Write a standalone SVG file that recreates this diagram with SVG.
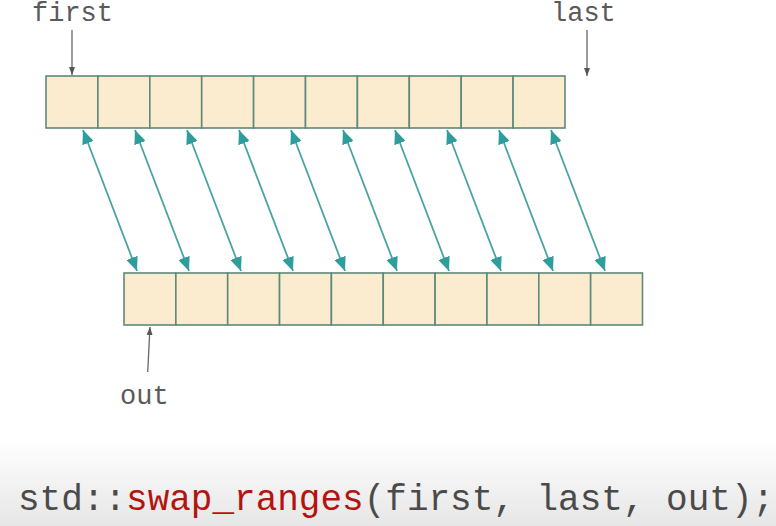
<svg xmlns="http://www.w3.org/2000/svg" width="776" height="526" viewBox="0 0 776 526">
<defs>
<linearGradient id="band" x1="0" y1="0" x2="0" y2="1">
<stop offset="0" stop-color="#ffffff"/>
<stop offset="1" stop-color="#e6e6e6"/>
</linearGradient>
<marker id="tealHead" markerUnits="userSpaceOnUse" markerWidth="14" markerHeight="12" viewBox="0 0 14 12" refX="14" refY="6" orient="auto-start-reverse">
<path d="M0,0 L14,6 L0,12 Z" fill="#2f9c9d"/>
</marker>
<marker id="grayHead" markerUnits="userSpaceOnUse" markerWidth="8" markerHeight="8" viewBox="0 0 8 8" refX="8" refY="4" orient="auto">
<path d="M0,1 L8,4 L0,7 Z" fill="#555"/>
</marker>
</defs>
<style>
.cell{fill:#fbecd0;stroke:#5d8a7a;stroke-width:1.6}
.lbl{font-family:"Liberation Mono","Courier New",monospace;font-size:27px;fill:#5a5a5a}
.code{font-family:"Liberation Mono","Courier New",monospace;font-size:36px;fill:#4a4a4a}
.swap{stroke:#4aa3a4;stroke-width:1.8;fill:none}
.ptr{stroke:#666;stroke-width:1.3;fill:none}
</style>
<rect x="0" y="0" width="776" height="526" fill="#ffffff"/>
<rect x="0" y="440" width="776" height="86" fill="url(#band)"/>

<g id="range-first">
<rect class="cell" x="46" y="76" width="51.9" height="52"/>
<rect class="cell" x="97.9" y="76" width="51.9" height="52"/>
<rect class="cell" x="149.8" y="76" width="51.9" height="52"/>
<rect class="cell" x="201.7" y="76" width="51.9" height="52"/>
<rect class="cell" x="253.6" y="76" width="51.9" height="52"/>
<rect class="cell" x="305.5" y="76" width="51.9" height="52"/>
<rect class="cell" x="357.4" y="76" width="51.9" height="52"/>
<rect class="cell" x="409.3" y="76" width="51.9" height="52"/>
<rect class="cell" x="461.2" y="76" width="51.9" height="52"/>
<rect class="cell" x="513.1" y="76" width="51.9" height="52"/>
</g>

<g id="range-out">
<rect class="cell" x="124" y="273" width="51.85" height="52"/>
<rect class="cell" x="175.85" y="273" width="51.85" height="52"/>
<rect class="cell" x="227.7" y="273" width="51.85" height="52"/>
<rect class="cell" x="279.55" y="273" width="51.85" height="52"/>
<rect class="cell" x="331.4" y="273" width="51.85" height="52"/>
<rect class="cell" x="383.25" y="273" width="51.85" height="52"/>
<rect class="cell" x="435.1" y="273" width="51.85" height="52"/>
<rect class="cell" x="486.95" y="273" width="51.85" height="52"/>
<rect class="cell" x="538.8" y="273" width="51.85" height="52"/>
<rect class="cell" x="590.65" y="273" width="51.85" height="52"/>
</g>

<g id="label-first"><text class="lbl" x="32" y="21">first</text></g>
<g id="label-last"><text class="lbl" x="551" y="21">last</text></g>
<g id="label-out"><text class="lbl" x="120" y="404">out</text></g>

<g id="code"><text class="code" x="18" y="510">std::<tspan fill="#b3140f">swap_ranges</tspan>(first, last, out);</text></g>

<g id="connectors">
<line class="ptr" x1="72" y1="30" x2="72" y2="75" marker-end="url(#grayHead)"/>
<line class="ptr" x1="587" y1="30" x2="587" y2="76" marker-end="url(#grayHead)"/>
<line class="ptr" x1="147.7" y1="372" x2="150" y2="327" marker-end="url(#grayHead)"/>
<line class="swap" x1="83" y1="130" x2="137" y2="271" marker-start="url(#tealHead)" marker-end="url(#tealHead)"/>
<line class="swap" x1="135" y1="130" x2="189" y2="271" marker-start="url(#tealHead)" marker-end="url(#tealHead)"/>
<line class="swap" x1="187" y1="130" x2="241" y2="271" marker-start="url(#tealHead)" marker-end="url(#tealHead)"/>
<line class="swap" x1="239" y1="130" x2="293" y2="271" marker-start="url(#tealHead)" marker-end="url(#tealHead)"/>
<line class="swap" x1="291" y1="130" x2="345" y2="271" marker-start="url(#tealHead)" marker-end="url(#tealHead)"/>
<line class="swap" x1="343" y1="130" x2="397" y2="271" marker-start="url(#tealHead)" marker-end="url(#tealHead)"/>
<line class="swap" x1="395" y1="130" x2="449" y2="271" marker-start="url(#tealHead)" marker-end="url(#tealHead)"/>
<line class="swap" x1="447" y1="130" x2="501" y2="271" marker-start="url(#tealHead)" marker-end="url(#tealHead)"/>
<line class="swap" x1="499" y1="130" x2="553" y2="271" marker-start="url(#tealHead)" marker-end="url(#tealHead)"/>
<line class="swap" x1="551" y1="130" x2="605" y2="271" marker-start="url(#tealHead)" marker-end="url(#tealHead)"/>
</g>
</svg>
